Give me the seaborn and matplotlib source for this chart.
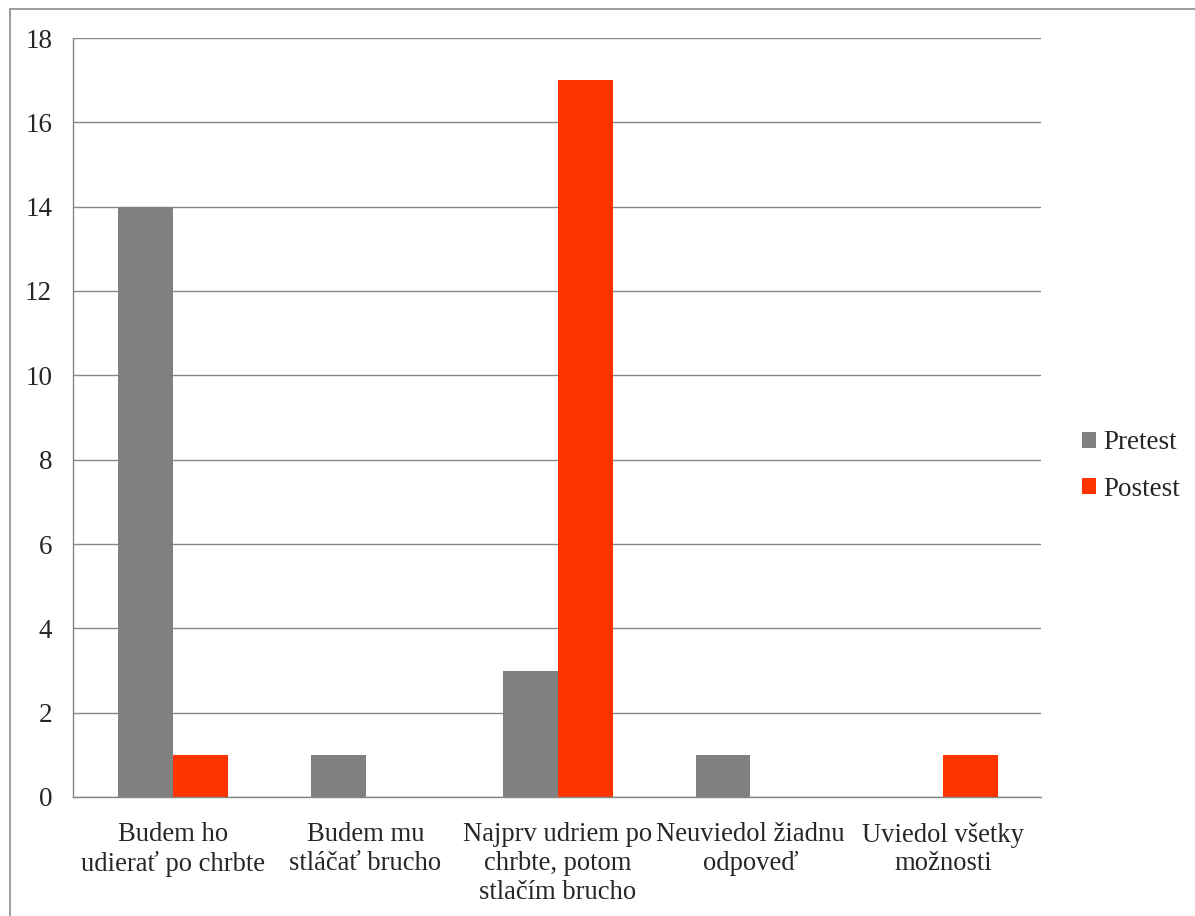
import matplotlib
matplotlib.use("Agg")
import matplotlib.pyplot as plt
from matplotlib.patches import Rectangle, Patch
import seaborn as sns
import pandas as pd

categories = [
    "Budem ho\nudierať po chrbte",
    "Budem mu\nstláčať brucho",
    "Najprv udriem po\nchrbte, potom\nstlačím brucho",
    "Neuviedol žiadnu\nodpoveď",
    "Uviedol všetky\nmožnosti",
]
pretest = [14, 1, 3, 1, 0]
postest = [1, 0, 17, 0, 1]
series_names = ["Pretest", "Postest"]
colors = ["#808080", "#FF3300"]

df = pd.DataFrame({
    "kategoria": categories * 2,
    "pocet": pretest + postest,
    "test": [series_names[0]] * len(categories) + [series_names[1]] * len(categories),
})

sns.set_style("white")
plt.rcParams["font.family"] = ["Liberation Serif", "DejaVu Serif"]

fig = plt.figure(figsize=(11.95, 9.16), dpi=100)
ax = fig.add_axes([73 / 1195, 1 - 797 / 916, (1041 - 73) / 1195, (797 - 38) / 916])

sns.barplot(data=df, x="kategoria", y="pocet", hue="test", palette=colors,
            width=0.57, dodge=True, saturation=1, ax=ax, legend=False,
            linewidth=0)

grid_c = "#868686"
n = len(categories)
x_lo, x_hi = -0.52, n - 0.49
ax.set_ylim(0, 18)
ax.set_yticks(range(0, 19, 2))
ax.set_xlim(x_lo, x_hi)
ax.yaxis.grid(True, color=grid_c, linewidth=1)
ax.set_axisbelow(True)
for s in ["top", "right"]:
    ax.spines[s].set_visible(False)
for s in ["left", "bottom"]:
    ax.spines[s].set_color(grid_c)
    ax.spines[s].set_linewidth(1)

ax.set_xlabel("")
ax.set_ylabel("")
ax.tick_params(axis="y", length=4, width=1, color=grid_c, pad=11, labelsize=19.5)
ax.set_xticks(range(n))
ax.set_xticklabels(categories, fontsize=19.2, linespacing=1.2)
ax.tick_params(axis="x", which="major", length=0, pad=18)
ax.set_xticks([x_lo] + [i + 0.5 for i in range(n - 1)] + [x_hi], minor=True)
ax.tick_params(axis="x", which="minor", length=7, width=1, color=grid_c, direction="out")

handles = [Patch(facecolor=c, edgecolor="none") for c in colors]
fig.legend(handles, series_names, loc="center left", bbox_to_anchor=(1082 / 1195, 1 - 466 / 916),
           frameon=False, fontsize=19.5, handlelength=0.5, handleheight=0.5,
           handletextpad=0.3, labelspacing=0.78, borderpad=0, borderaxespad=0)

fig.patches.append(Rectangle((10 / 1195, -0.1), 1.2, (1 - 9 / 916) + 0.1,
                             transform=fig.transFigure, fill=False,
                             edgecolor="#8c8c8c", linewidth=1.2))

fig.savefig("out.png", dpi=100)
